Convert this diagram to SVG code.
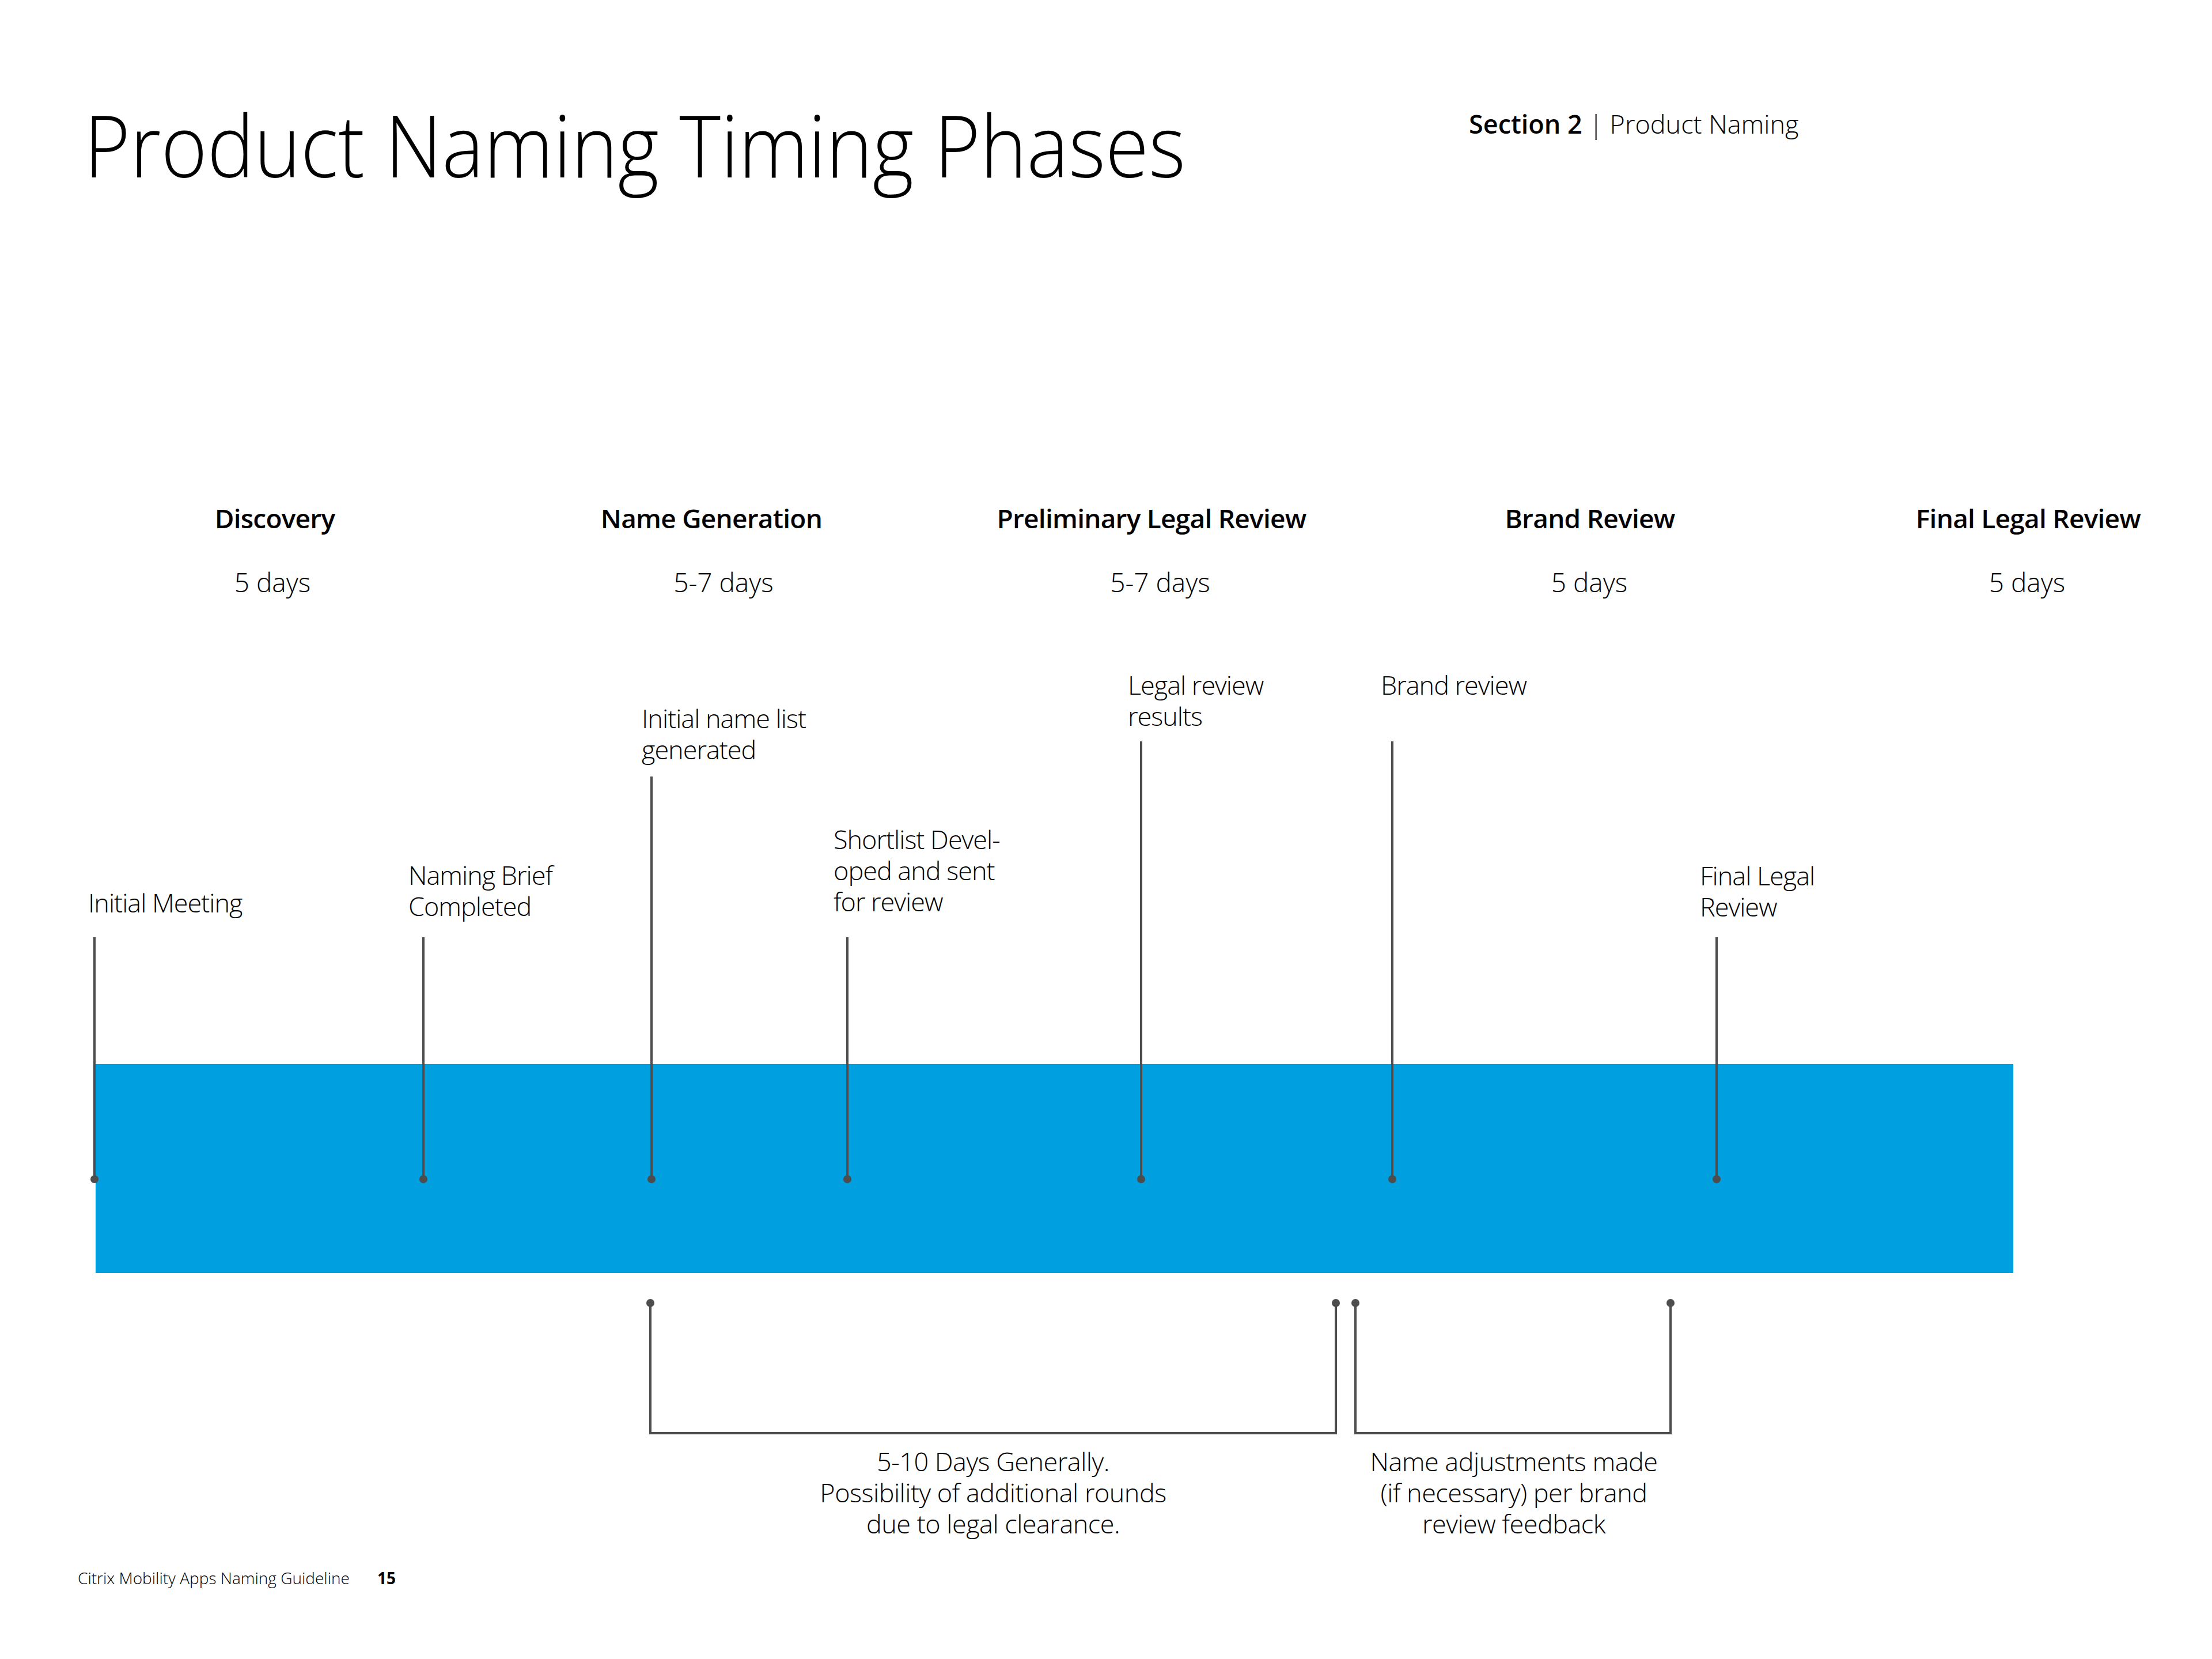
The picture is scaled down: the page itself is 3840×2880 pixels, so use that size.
<svg xmlns="http://www.w3.org/2000/svg" width="3840" height="2880" viewBox="0 0 3840 2880">
<style>
  text { font-family: "Open Sans", "Noto Sans", "Liberation Sans", sans-serif; fill: #000; }
  .title { font-size: 150px; font-weight: 300; }
  .sec { font-size: 45px; }
  .b { font-weight: 600; }
  .l { font-weight: 300; }
  .phase { font-size: 46px; font-weight: 600; text-anchor: middle; letter-spacing: -0.75px; }
  .days { font-size: 46px; font-weight: 300; text-anchor: middle; }
  .lab { font-size: 45px; font-weight: 300; letter-spacing: -1px; }
  .note { font-size: 45px; font-weight: 300; text-anchor: middle; letter-spacing: -0.5px; }
  .foot { font-size: 28px; font-weight: 300; }
  .footn { font-size: 28px; font-weight: 700; }
  .conn { stroke: #4d4d4d; stroke-width: 4; fill: none; }
  .dot { fill: #4d4d4d; }
</style>
<rect width="3840" height="2880" fill="#ffffff"/>

<g id="header">
  <text class="title" x="146" y="308" textLength="1912" lengthAdjust="spacingAndGlyphs">Product Naming Timing Phases</text>
  <text class="sec" x="2550" y="232"><tspan class="b">Section 2</tspan><tspan class="l"> | Product Naming</tspan></text>
</g>

<g id="phases">
  <g id="phase-discovery"><text class="phase" x="477" y="917">Discovery</text><text class="days" x="473" y="1028">5 days</text></g>
  <g id="phase-name-generation"><text class="phase" x="1235" y="917">Name Generation</text><text class="days" x="1256" y="1028">5-7 days</text></g>
  <g id="phase-prelim-legal"><text class="phase" x="1999" y="917">Preliminary Legal Review</text><text class="days" x="2014" y="1028">5-7 days</text></g>
  <g id="phase-brand"><text class="phase" x="2760" y="917">Brand Review</text><text class="days" x="2759" y="1028">5 days</text></g>
  <g id="phase-final-legal"><text class="phase" x="3521" y="917">Final Legal Review</text><text class="days" x="3519" y="1028">5 days</text></g>
</g>

<g id="timeline-bar">
  <rect x="166" y="1847" width="3329" height="363" fill="#009FDF"/>
</g>

<g id="connectors">
  <line class="conn" x1="164" y1="1627" x2="164" y2="2047"/>
  <line class="conn" x1="735" y1="1627" x2="735" y2="2047"/>
  <line class="conn" x1="1131" y1="1348" x2="1131" y2="2047"/>
  <line class="conn" x1="1471" y1="1627" x2="1471" y2="2047"/>
  <line class="conn" x1="1981" y1="1287" x2="1981" y2="2047"/>
  <line class="conn" x1="2417" y1="1287" x2="2417" y2="2047"/>
  <line class="conn" x1="2980" y1="1627" x2="2980" y2="2047"/>
  <circle class="dot" cx="164" cy="2047" r="7"/>
  <circle class="dot" cx="735" cy="2047" r="7"/>
  <circle class="dot" cx="1131" cy="2047" r="7"/>
  <circle class="dot" cx="1471" cy="2047" r="7"/>
  <circle class="dot" cx="1981" cy="2047" r="7"/>
  <circle class="dot" cx="2417" cy="2047" r="7"/>
  <circle class="dot" cx="2980" cy="2047" r="7"/>
  <path class="conn" d="M1129,2262 V2488 H2319 V2262"/>
  <path class="conn" d="M2353,2262 V2488 H2900 V2262"/>
  <circle class="dot" cx="1129" cy="2262" r="7"/>
  <circle class="dot" cx="2319" cy="2262" r="7"/>
  <circle class="dot" cx="2353" cy="2262" r="7"/>
  <circle class="dot" cx="2900" cy="2262" r="7"/>
</g>

<g id="m-initial-meeting"><text class="lab" x="153" y="1584">Initial Meeting</text></g>
<g id="m-naming-brief"><text class="lab" x="709" y="1536">Naming Brief<tspan x="709" dy="54">Completed</tspan></text></g>
<g id="m-initial-name-list"><text class="lab" x="1114" y="1264">Initial name list<tspan x="1114" dy="54">generated</tspan></text></g>
<g id="m-shortlist"><text class="lab" x="1447" y="1474">Shortlist Devel-<tspan x="1447" dy="54">oped and sent</tspan><tspan x="1447" dy="54">for review</tspan></text></g>
<g id="m-legal-results"><text class="lab" x="1958" y="1206">Legal review<tspan x="1958" dy="54">results</tspan></text></g>
<g id="m-brand-review"><text class="lab" x="2397" y="1206">Brand review</text></g>
<g id="m-final-legal"><text class="lab" x="2951" y="1537">Final Legal<tspan x="2951" dy="54">Review</tspan></text></g>

<g id="note-legal">
  <text class="note" x="1724" y="2554">5-10 Days Generally.<tspan x="1724" dy="54">Possibility of additional rounds</tspan><tspan x="1724" dy="54">due to legal clearance.</tspan></text>
</g>
<g id="note-brand">
  <text class="note" x="2628" y="2554">Name adjustments made<tspan x="2628" dy="54">(if necessary) per brand</tspan><tspan x="2628" dy="54">review feedback</tspan></text>
</g>

<g id="footer">
  <text class="foot" x="135" y="2750">Citrix Mobility Apps Naming Guideline</text>
  <text class="footn" x="655" y="2750">15</text>
</g>
</svg>
